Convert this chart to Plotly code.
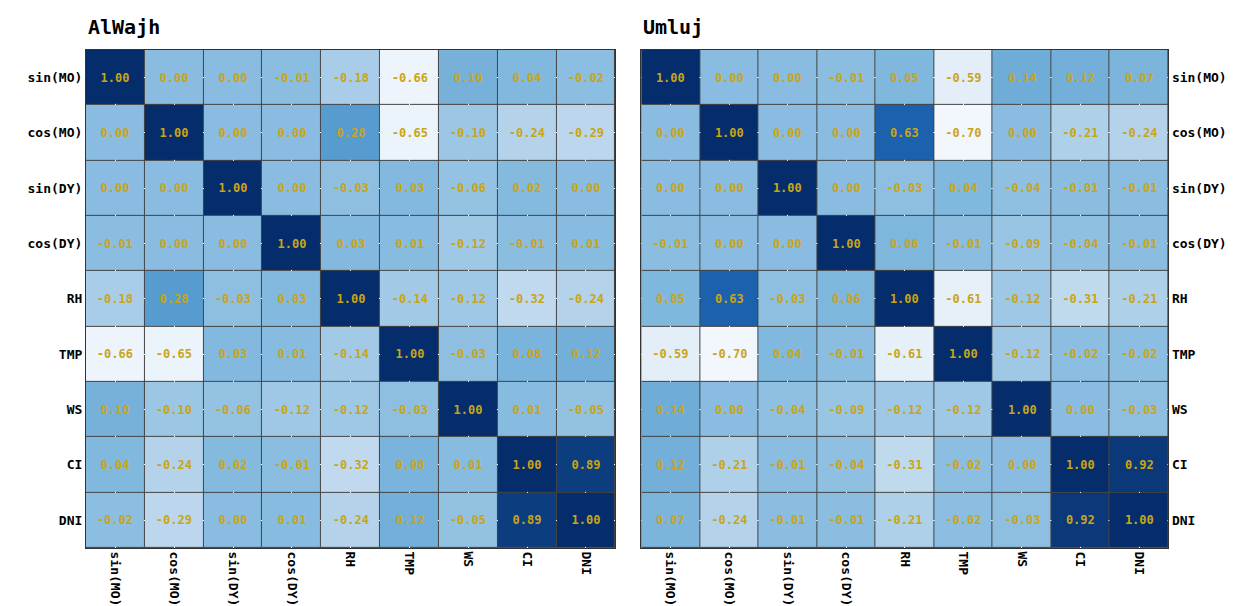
import plotly.graph_objects as go

labels = ["sin(MO)", "cos(MO)", "sin(DY)", "cos(DY)", "RH", "TMP", "WS", "CI", "DNI"]

alwajh = [
    [1.00, 0.00, 0.00, -0.01, -0.18, -0.66, 0.10, 0.04, -0.02],
    [0.00, 1.00, 0.00, 0.00, 0.28, -0.65, -0.10, -0.24, -0.29],
    [0.00, 0.00, 1.00, 0.00, -0.03, 0.03, -0.06, 0.02, 0.00],
    [-0.01, 0.00, 0.00, 1.00, 0.03, 0.01, -0.12, -0.01, 0.01],
    [-0.18, 0.28, -0.03, 0.03, 1.00, -0.14, -0.12, -0.32, -0.24],
    [-0.66, -0.65, 0.03, 0.01, -0.14, 1.00, -0.03, 0.08, 0.12],
    [0.10, -0.10, -0.06, -0.12, -0.12, -0.03, 1.00, 0.01, -0.05],
    [0.04, -0.24, 0.02, -0.01, -0.32, 0.08, 0.01, 1.00, 0.89],
    [-0.02, -0.29, 0.00, 0.01, -0.24, 0.12, -0.05, 0.89, 1.00],
]

umluj = [
    [1.00, 0.00, 0.00, -0.01, 0.05, -0.59, 0.14, 0.12, 0.07],
    [0.00, 1.00, 0.00, 0.00, 0.63, -0.70, 0.00, -0.21, -0.24],
    [0.00, 0.00, 1.00, 0.00, -0.03, 0.04, -0.04, -0.01, -0.01],
    [-0.01, 0.00, 0.00, 1.00, 0.06, -0.01, -0.09, -0.04, -0.01],
    [0.05, 0.63, -0.03, 0.06, 1.00, -0.61, -0.12, -0.31, -0.21],
    [-0.59, -0.70, 0.04, -0.01, -0.61, 1.00, -0.12, -0.02, -0.02],
    [0.14, 0.00, -0.04, -0.09, -0.12, -0.12, 1.00, 0.00, -0.03],
    [0.12, -0.21, -0.01, -0.04, -0.31, -0.02, 0.00, 1.00, 0.92],
    [0.07, -0.24, -0.01, -0.01, -0.21, -0.02, -0.03, 0.92, 1.00],
]

titles = ["AlWajh", "Umluj"]

scale = [
    [0.0, "#f2f7fd"], [0.25, "#bad6ec"], [0.42, "#86bbdf"],
    [0.6, "#4f97cc"], [0.78, "#1b62ad"], [1.0, "#062d6b"],
]

font = "DejaVu Sans Mono"
fig = go.Figure()
doms = [(0.063, 0.491), (0.512, 0.938)]
for i, (z, t) in enumerate(zip([alwajh, umluj], titles)):
    xa = "x" if i == 0 else "x2"
    ya = "y" if i == 0 else "y2"
    fig.add_trace(go.Heatmap(
        z=z, x=labels, y=labels, xaxis=xa, yaxis=ya,
        colorscale=scale, zmin=-0.7, zmax=1.0, showscale=False,
        xgap=1, ygap=1,
        text=[[f"{v:.2f}" for v in row] for row in z],
        texttemplate="%{text}",
        textfont=dict(family=font, size=12, color="#c9a516", weight="bold"),
        hoverinfo="skip",
    ))
    sfx = "" if i == 0 else "2"
    fig.layout["xaxis" + sfx] = dict(
        domain=doms[i], anchor=ya, tickangle=90, side="bottom",
        tickfont=dict(family=font, size=13, color="black", weight="bold"),
        showline=True, linecolor="#333", mirror=True, ticks="",
    )
    fig.layout["yaxis" + sfx] = dict(
        domain=[0.109, 0.931], anchor=xa, autorange="reversed",
        side="left" if i == 0 else "right",
        tickfont=dict(family=font, size=13, color="black", weight="bold"),
        showline=True, linecolor="#333", mirror=True, ticks="",
    )
    fig.add_annotation(
        text=f"<b>{t}</b>", x=doms[i][0], y=0.945, xref="paper", yref="paper",
        xanchor="left", yanchor="bottom", showarrow=False,
        font=dict(family=font, size=20, color="black"),
    )

fig.update_layout(
    width=1237, height=606, margin=dict(l=0, r=0, t=0, b=0),
    paper_bgcolor="white", plot_bgcolor="#444",
)
fig.write_html("out.html")
